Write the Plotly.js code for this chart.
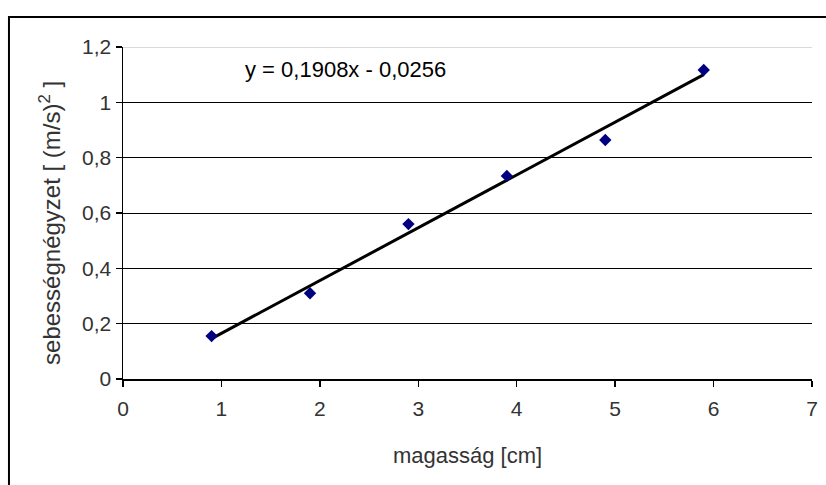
<!DOCTYPE html>
<html>
<head>
<meta charset="utf-8">
<script src="https://cdn.plot.ly/plotly-3.0.1.min.js"></script>
<style>html,body{margin:0;padding:0;background:#fff;}#chart{width:826px;height:485px;}</style>
</head>
<body>
<div id="chart"></div>
<script>
// Measured points
const heightCm = [0.9, 1.9, 2.9, 3.9, 4.9, 5.9];
const speedSq = [0.155, 0.310, 0.560, 0.734, 0.864, 1.117];
// Trendline end points
const trendX = [0.9, 5.9];
const trendY = [0.146, 1.100];
const equationText = 'y = 0,1908x - 0,0256';
const xTitle = 'magasság [cm]';
const yTitle = 'sebességnégyzet [ (m/s)<sup>2</sup> ]';
const yGridVals = [0.2, 0.4, 0.6, 0.8, 1.0];

const FONT = 'Liberation Sans, Arial, sans-serif';
const TXT = '#333333';

const traces = [
  {
    x: trendX, y: trendY, type: 'scatter', mode: 'lines',
    line: {color: '#000000', width: 3}, hoverinfo: 'skip', showlegend: false
  },
  {
    x: heightCm, y: speedSq, type: 'scatter', mode: 'markers',
    marker: {symbol: 'diamond', size: 9.5, color: '#000080'}, showlegend: false
  },
  {x: [], y: [], yaxis: 'y2', type: 'scatter', showlegend: false, hoverinfo: 'skip'}
];

const layout = {
  width: 826, height: 485,
  margin: {l: 123, r: 14, t: 47, b: 106},
  paper_bgcolor: '#ffffff', plot_bgcolor: '#ffffff',
  separators: ', ',
  showlegend: false,
  font: {family: FONT, size: 21, color: TXT},
  xaxis: {
    range: [0, 7], dtick: 1, tick0: 0,
    showgrid: false, zeroline: false,
    showline: true, linecolor: '#000000', linewidth: 1.5,
    ticks: 'outside', ticklen: 6, tickcolor: '#000000', tickwidth: 1.5,
    ticklabelstandoff: 4,
    tickfont: {family: FONT, size: 21, color: TXT}
  },
  yaxis: {
    range: [0, 1.2], dtick: 0.2, tick0: 0,
    showgrid: false, zeroline: false,
    showline: true, linecolor: '#000000', linewidth: 1.5,
    ticks: 'outside', ticklen: 6, tickcolor: '#000000', tickwidth: 1.5,
    tickfont: {family: FONT, size: 21, color: TXT}
  },
  yaxis2: {
    overlaying: 'y', range: [0, 1.2], tickvals: yGridVals,
    showgrid: true, gridcolor: '#000000', gridwidth: 1,
    showticklabels: false, ticks: '', zeroline: false, showline: false
  },
  shapes: [
    {type: 'line', xref: 'paper', yref: 'y', x0: 0, x1: 1, y0: 1.2, y1: 1.2,
     line: {color: '#d9d9d9', width: 2}},
    {type: 'path', xref: 'paper', yref: 'paper',
     path: 'M -0.1655,-0.6 L -0.1655,1.0904 L 1.1,1.0904',
     line: {color: '#000000', width: 2}}
  ],
  annotations: [
    {text: equationText, xref: 'x', yref: 'y', x: 1.22, y: 1.117,
     xanchor: 'left', yanchor: 'middle', showarrow: false,
     font: {family: FONT, size: 22, color: '#000000'}},
    {text: xTitle, xref: 'paper', yref: 'paper', x: 0.5, y: -0.229,
     xanchor: 'center', yanchor: 'middle', showarrow: false,
     font: {family: FONT, size: 22, color: TXT}},
    {text: yTitle, xref: 'paper', yref: 'paper', x: -0.106, y: 0.47,
     xanchor: 'center', yanchor: 'middle', textangle: -90, showarrow: false,
     font: {family: FONT, size: 24, color: TXT}}
  ]
};

Plotly.newPlot('chart', traces, layout, {displayModeBar: false, staticPlot: true});
</script>
</body>
</html>
